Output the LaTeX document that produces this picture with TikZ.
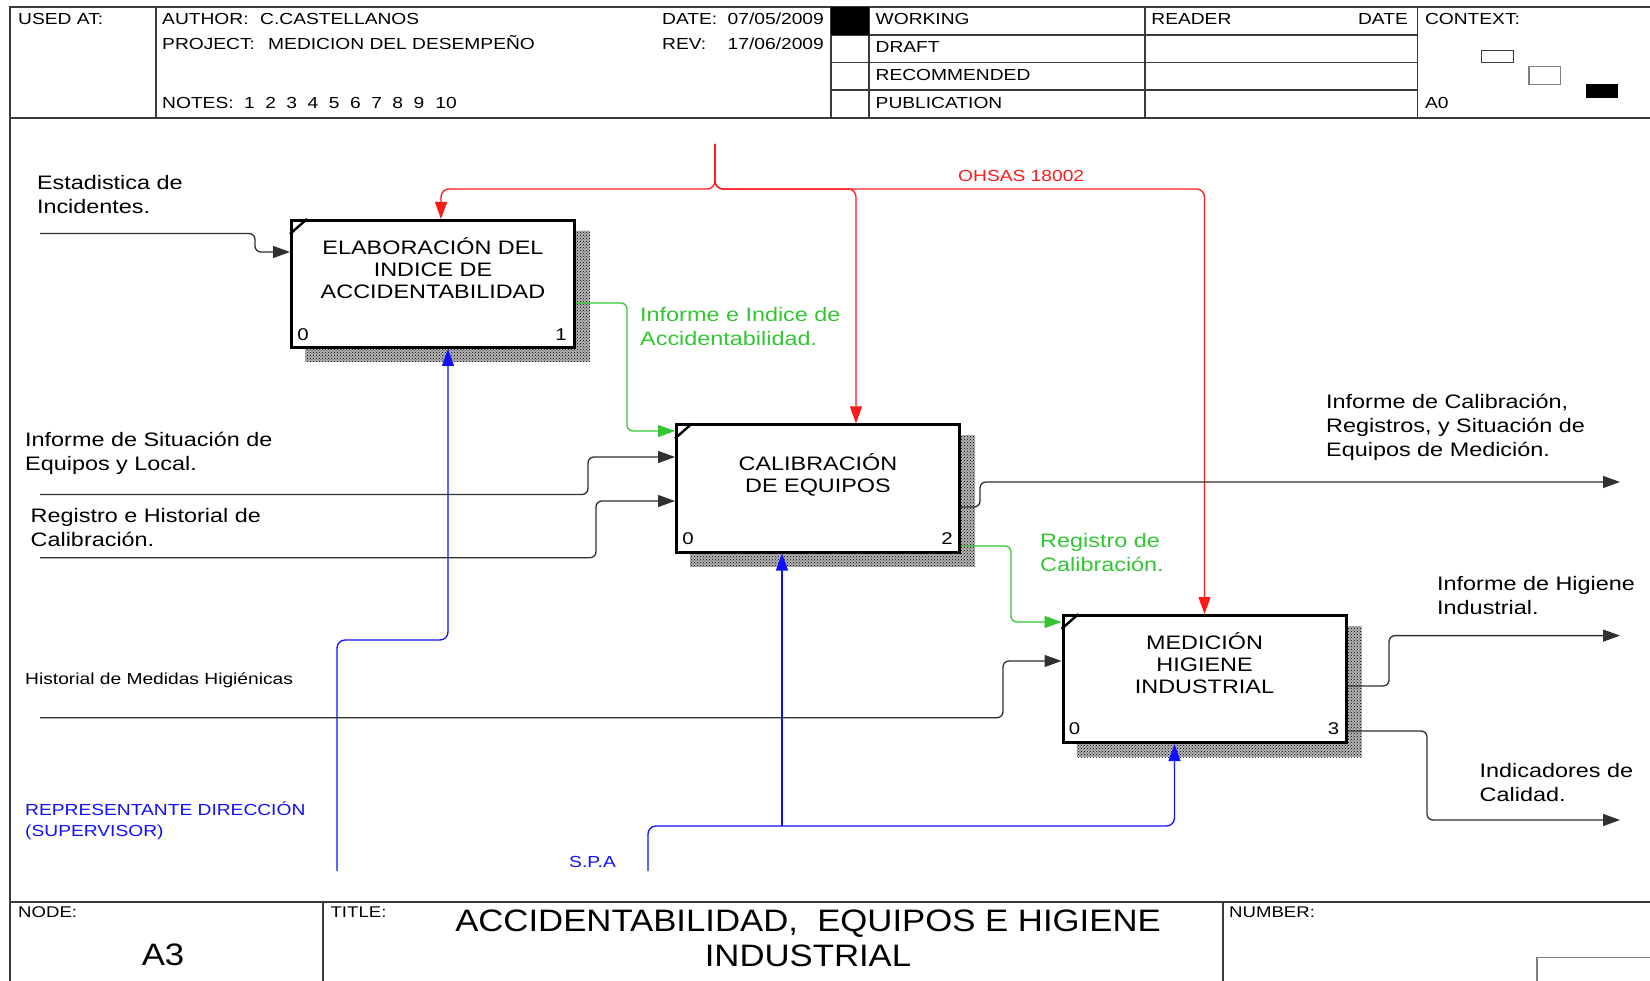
\documentclass[tikz,border=0pt]{standalone}
\usepackage{fontspec}
\setmainfont[FakeStretch=1.2]{Liberation Sans}
\newfontfamily\titlefont[FakeStretch=1.12]{Liberation Sans}
\usetikzlibrary{arrows.meta,patterns,backgrounds}
\definecolor{ctlred}{HTML}{FF1A1A}
\definecolor{flowgreen}{HTML}{33C633}
\definecolor{mechblue}{HTML}{1010FF}
\definecolor{framegray}{HTML}{3A3A3A}
\definecolor{linegray}{HTML}{303030}
\begin{document}
\begin{tikzpicture}[x=1pt,y=-1pt,
  frame/.style={draw=framegray, line width=1.6pt},
  hdr/.style={inner sep=0pt, anchor=base west, font=\fontsize{16}{18}\selectfont},
  hdrr/.style={inner sep=0pt, anchor=base east, font=\fontsize{16}{18}\selectfont},
  activity/.style={draw=black, line width=3pt, fill=white,
    minimum width=283pt, minimum height=127pt, inner sep=0pt},
  boxtext/.style={align=center, anchor=south, text depth=0pt, inner sep=0pt,
    font=\fontsize{19.5}{22}\selectfont},
  boxnum/.style={inner sep=0pt, font=\fontsize{17}{17}\selectfont},
  lbl/.style={align=left, anchor=south west, text depth=0pt, inner sep=0pt,
    font=\fontsize{19.5}{24}\selectfont},
  smalllbl/.style={align=left, anchor=south west, text depth=0pt, inner sep=0pt,
    font=\fontsize{16}{21}\selectfont},
  tip/.style={-{Triangle[length=17pt,width=12pt]}},
  inp/.style={draw=linegray, line width=1.3pt, rounded corners=6pt, tip},
  outg/.style={draw=flowgreen, line width=1.3pt, rounded corners=6pt, tip},
  ctl/.style={draw=ctlred, line width=1.3pt, rounded corners=8pt, tip},
  mech/.style={draw=mechblue, line width=1.3pt, rounded corners=8pt, tip},
  shadowfill/.style={fill=gray!60, postaction={pattern=crosshatch dots, pattern color=black}}
]
\useasboundingbox (0,0) rectangle (1650,981);

% ---------------- activity boxes ----------------
\node[activity] (b1) at (433,284) {};
\node[activity] (b2) at (818,488.5) {};
\node[activity] (b3) at (1204.5,679) {};

\begin{pgfonlayer}{background}
  \fill[white] (0,0) rectangle (1650,981);
  \foreach \b in {b1,b2,b3}
    \path[shadowfill] ([xshift=15pt,yshift=-13pt]\b.south west) rectangle ([xshift=14pt,yshift=-12pt]\b.north east);
\end{pgfonlayer}

\foreach \b in {b1,b2,b3}
  \draw[line width=2.4pt] ([yshift=-15pt]\b.north west) -- ([xshift=17pt]\b.north west);

\node[boxtext] (t1) at (433,298.5) {ELABORACIÓN DEL\\INDICE DE\\ACCIDENTABILIDAD};
\node[boxtext] (t2) at (818,492.5) {CALIBRACIÓN\\DE EQUIPOS};
\node[boxtext] (t3) at (1204.5,694) {MEDICIÓN\\HIGIENE\\INDUSTRIAL};

\node[boxnum] (n1a) at ([xshift=13pt,yshift=14pt]b1.south west) {0};
\node[boxnum] (n1b) at ([xshift=-15pt,yshift=14pt]b1.south east) {1};
\node[boxnum] (n2a) at ([xshift=13pt,yshift=15pt]b2.south west) {0};
\node[boxnum] (n2b) at ([xshift=-14pt,yshift=15pt]b2.south east) {2};
\node[boxnum] (n3a) at ([xshift=13pt,yshift=15pt]b3.south west) {0};
\node[boxnum] (n3b) at ([xshift=-14pt,yshift=15pt]b3.south east) {3};

% ---------------- controls (red) ----------------
\coordinate (ctlsrc) at (715,144);
\coordinate (ctljn) at (715,189);
\draw[ctl] (ctlsrc) -- (ctljn) -| ([xshift=8pt]b1.north);
\draw[ctl] (ctlsrc) -- (ctljn) -| ([xshift=38pt]b2.north);
\draw[ctl] (ctlsrc) -- (ctljn) -| (b3.north);
\node[smalllbl, text=ctlred] (ohsas) at (958,181.4) {OHSAS 18002};

% ---------------- mechanisms (blue) ----------------
\coordinate (repsrc) at (337,871);
\coordinate (m1) at ([xshift=15pt]b1.south);
\draw[mech] (repsrc) |- (m1 |- 0,640) -- (m1);
\coordinate (spasrc) at (648,871);
\coordinate (m2) at ([xshift=-36pt]b2.south);
\coordinate (m3) at ([xshift=-30pt]b3.south);
\draw[mech] (spasrc) |- (m3 |- 0,826) -- (m3);
\draw[mech, rounded corners=0pt] (m2 |- 0,826) -- (m2);
\node[smalllbl, text=mechblue] (rep) at (25,836.7) {REPRESENTANTE DIRECCIÓN\\(SUPERVISOR)};
\node[smalllbl, text=mechblue] (spa) at (569,867.7) {S.P.A};

% ---------------- inputs ----------------
\coordinate (in1) at (40,233.5);
\draw[inp] (in1) -| (255,252) -- (b1.west |- 0,252);
\coordinate (in2) at (40,494.5);
\draw[inp] (in2) -| (588,457) -- (b2.west |- 0,457);
\coordinate (in3) at (40,557.7);
\draw[inp] (in3) -| (596,501) -- (b2.west |- 0,501);
\coordinate (in4) at (40,717.7);
\draw[inp] (in4) -| (1003,661) -- (b3.west |- 0,661);

\node[lbl] (lin1) at (36.8,213.3) {Estadistica de\\Incidentes.};
\node[lbl] (lin2) at (25,471) {Informe de Situación de\\Equipos y Local.};
\node[lbl] (lin3) at (30.5,546.8) {Registro e Historial de\\Calibración.};
\node[smalllbl] (lin4) at (25,684.4) {Historial de Medidas Higiénicas};

% ---------------- internal flows (green) ----------------
\draw[outg] (b1.east |- 0,303) -| (627,431) -- (b2.west |- 0,431);
\draw[outg] (b2.east |- 0,546) -| (1011,622) -- (b3.west |- 0,622);
\node[lbl, text=flowgreen] (lg1) at (640,345.8) {Informe e Indice de\\Accidentabilidad.};
\node[lbl, text=flowgreen] (lg2) at (1040,572) {Registro de\\Calibración.};

% ---------------- outputs ----------------
\coordinate (out1) at (1620,482);
\draw[inp] (b2.east |- 0,507) -| (980,482) -- (out1);
\coordinate (out2) at (1620,635.6);
\draw[inp] (b3.east |- 0,686) -| (1389,635.6) -- (out2);
\coordinate (out3) at (1620,820);
\draw[inp] (b3.east |- 0,731) -| (1427,820) -- (out3);

\node[lbl] (lo1) at (1326,457) {Informe de Calibración,\\Registros, y Situación de\\Equipos de Medición.};
\node[lbl] (lo2) at (1437,615) {Informe de Higiene\\Industrial.};
\node[lbl] (lo3) at (1479.5,801.5) {Indicadores de\\Calidad.};

% ---------------- header frame ----------------
\draw[frame] (10,981) -- (10,7) -- (1650,7);
\draw[frame] (10,118) -- (1650,118);
\foreach \x in {155.7,831,869,1145,1417.5}
  \draw[frame] (\x,7) -- (\x,118);
\foreach \y in {34.75,62.5,90.25}
  \draw[frame] (831,\y) -- (1417.5,\y);
\fill[black] (831,7) rectangle (869,34.75);

\node[hdr] (usedat) at (18,24.7) {USED AT:};
\node[hdr] (author) at (162,24.7) {AUTHOR:};
\node[hdr] (authorv) at (260,24.7) {C.CASTELLANOS};
\node[hdr] (project) at (162,50) {PROJECT:};
\node[hdr] (projectv) at (268,50) {MEDICION DEL DESEMPEÑO};
\node[hdr] (notes) at (162,108.8) {NOTES:};
\foreach \n/\x in {1/249.4,2/270.6,3/291.8,4/313,5/334.2,6/355.4,7/376.6,8/397.8,9/419,10/446}
  \node[inner sep=0pt, anchor=base, font=\fontsize{16}{18}\selectfont] (note\n) at (\x,108.8) {\n};
\node[hdr] (date) at (662,24.7) {DATE:};
\node[hdrr] (datev) at (824,24.7) {07/05/2009};
\node[hdr] (rev) at (662,50) {REV:};
\node[hdrr] (revv) at (824,50) {17/06/2009};
\node[hdr] (working) at (875.5,24.7) {WORKING};
\node[hdr] (draft) at (875.5,53) {DRAFT};
\node[hdr] (recom) at (875.5,80.4) {RECOMMENDED};
\node[hdr] (publ) at (875.5,108.8) {PUBLICATION};
\node[hdr] (reader) at (1151.2,24.7) {READER};
\node[hdrr] (rdate) at (1408,24.7) {DATE};
\node[hdr] (context) at (1424.8,24.7) {CONTEXT:};
\node[hdr] (a0) at (1424.8,108.8) {A0};
\draw[framegray, line width=1.2pt] (1481.7,50.7) rectangle (1513.3,62.3);
\draw[gray, line width=1.4pt] (1529,66.7) rectangle (1560.5,84.3);
\fill[black] (1586,84.3) rectangle (1618,98.3);

% ---------------- footer ----------------
\draw[frame] (10,902) -- (1650,902);
\draw[frame] (323,902) -- (323,981);
\draw[frame] (1223,902) -- (1223,981);
\draw[gray, line width=1.6pt] (1537,981) -- (1537,957.6) -- (1650,957.6);
\node[hdr, font=\fontsize{15.5}{17}\selectfont] (node) at (18,917.5) {NODE:};
\node[hdr, font=\fontsize{15.5}{17}\selectfont] (title) at (330.4,917.5) {TITLE:};
\node[hdr, font=\fontsize{15.5}{17}\selectfont] (number) at (1229,917.5) {NUMBER:};
\node[inner sep=0pt, anchor=base, font=\titlefont\fontsize{31}{34}\selectfont] (a3) at (163,965.4) {A3};
\node[align=center, anchor=south, text depth=0pt, inner sep=0pt, font=\titlefont\fontsize{31}{35}\selectfont] (titlev) at (808,966.9) {ACCIDENTABILIDAD,\ \ EQUIPOS E HIGIENE\\INDUSTRIAL};
\end{tikzpicture}
\end{document}
